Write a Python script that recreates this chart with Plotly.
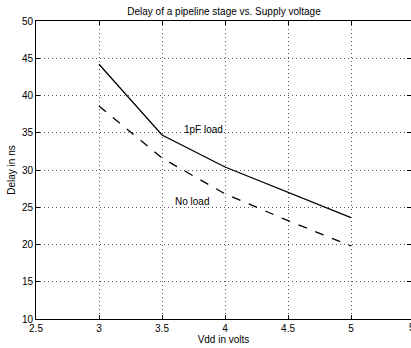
import plotly.graph_objects as go

vdd = [3.0, 3.5, 4.0, 4.5, 5.0]
delay_1pf = [44.2, 34.7, 30.4, 27.0, 23.6]
delay_noload = [38.6, 31.6, 26.8, 23.2, 19.8]
x_ticks = [2.5, 3, 3.5, 4, 4.5, 5]
y_ticks = [10, 15, 20, 25, 30, 35, 40, 45, 50]

font = dict(family="Liberation Sans, Arial, sans-serif", size=10, color="black")

fig = go.Figure()
fig.add_trace(go.Scatter(x=vdd, y=delay_1pf, mode="lines",
                         line=dict(color="black", width=1.3), showlegend=False))
fig.add_trace(go.Scatter(x=vdd, y=delay_noload, mode="lines",
                         line=dict(color="black", width=1.3, dash="dash"), showlegend=False))

fig.add_annotation(x=3.83, y=35.5, text="1pF load", showarrow=False, font=font)
fig.add_annotation(x=3.74, y=25.75, text="No load", showarrow=False, font=font)
fig.add_annotation(x=1.0, xref="paper", y=0, yref="paper", yanchor="top", xanchor="left",
                   xshift=-4, yshift=-1, text="5.5", showarrow=False, font=font)

axis_common = dict(showgrid=True, gridcolor="#555", griddash="1px,3px", gridwidth=1,
                   showline=True, linecolor="black", linewidth=1, mirror="ticks",
                   ticks="inside", ticklen=4, tickcolor="black", zeroline=False,
                   tickfont=font)

fig.update_layout(
    width=411, height=348,
    margin=dict(l=36, r=0, t=21, b=29),
    paper_bgcolor="white", plot_bgcolor="white",
    font=font,
    title=dict(text="Delay of a pipeline stage vs. Supply voltage", x=0.545, xanchor="center",
               y=0.968, yanchor="middle", font=dict(family=font["family"], size=10, color="black")),
    xaxis=dict(range=[2.5, 5.476], tickvals=x_ticks, ticktext=["2.5", "3", "3.5", "4", "4.5", "5"],
               title=dict(text="Vdd in volts", standoff=2, font=font), **axis_common),
    yaxis=dict(range=[10, 50], tickvals=y_ticks,
               title=dict(text="Delay in ns", standoff=4, font=font), **axis_common),
)

fig.write_html("out.html", config={"displayModeBar": False},
               post_script="document.body.style.margin='0';document.body.style.overflow='hidden';")
